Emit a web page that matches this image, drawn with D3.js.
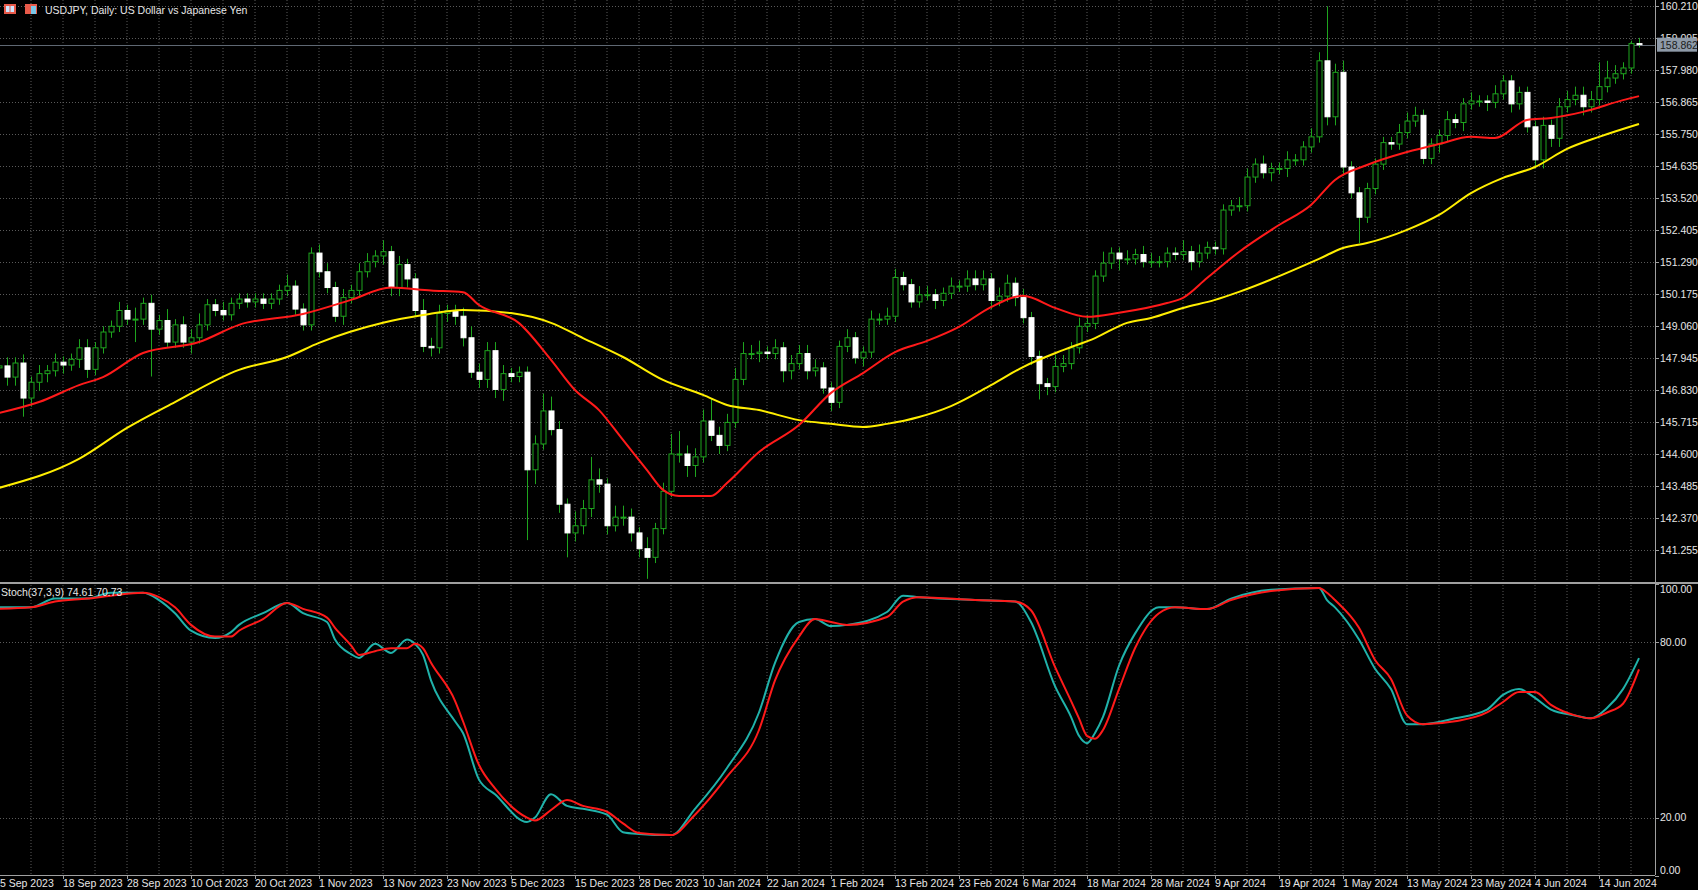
<!DOCTYPE html>
<html><head><meta charset="utf-8">
<script src="https://cdn.jsdelivr.net/npm/d3@7/dist/d3.min.js"></script>
<style>html,body{margin:0;padding:0;background:#000;overflow:hidden}</style>
</head><body>
<svg id="c" width="1698" height="890"></svg>
<script>
const closes=[147.67,147.28,147.77,146.55,147.1,147.4,147.5,147.8,147.7,147.9,
148.3,147.55,148.3,148.85,149.05,149.6,149.3,149.3,149.85,148.95,
149.25,148.5,149.1,148.5,148.65,149.1,149.8,149.6,149.45,149.85,
150.0,149.9,150.0,149.85,150.0,150.3,150.45,149.65,149.1,151.6,
150.95,150.4,149.4,150.05,150.3,150.95,151.3,151.5,151.65,150.4,
151.2,150.7,149.6,148.35,148.3,149.5,149.6,149.4,148.65,147.45,
147.2,148.2,146.85,147.4,147.3,147.45,144.05,144.95,146.1,145.45,
142.85,141.85,142.1,142.7,143.7,143.55,142.1,142.4,142.4,141.85,
141.3,141.0,142.0,143.3,144.6,144.6,144.2,144.5,145.75,145.25,
144.9,145.7,147.2,148.1,148.1,148.15,148.1,148.3,147.5,147.75,
148.1,147.5,147.6,146.9,146.4,148.35,148.65,147.95,148.15,149.3,
149.3,149.4,150.75,150.5,149.9,150.15,150.15,149.95,150.2,150.45,
150.45,150.7,150.5,150.7,149.95,150.1,150.55,150.05,149.35,148.0,
147.05,146.95,147.65,147.75,148.3,149.05,149.15,150.8,151.25,151.6,
151.4,151.4,151.55,151.3,151.3,151.3,151.6,151.55,151.65,151.3,
151.6,151.8,151.75,153.1,153.25,153.25,154.25,154.7,154.4,154.55,
154.55,154.85,154.85,155.3,155.65,158.3,156.35,157.9,154.6,153.7,
152.85,153.85,154.7,155.45,155.4,155.8,156.2,156.4,154.9,155.4,
155.7,156.25,156.15,156.8,156.9,156.9,156.85,157.15,157.6,156.8,
157.2,156.0,154.85,156.05,155.6,156.7,156.95,157.1,156.7,156.95,
157.4,157.7,157.85,158.05,158.9,158.862];
const firstOpen=147.6;
const upperWick=[.2,.3,.2,.3,.2,.3,.2,.3,.2,.2,.3,.3,.2,.2,.2,.3,.2,.4,.2,.3,
.2,.4,.2,.3,.3,.4,.2,.2,.3,.2,.2,.2,.2,.2,.2,.2,.4,.2,.2,.2,
.3,.3,.2,.3,.2,.3,.3,.2,.4,.2,.3,.2,.2,.4,.3,.3,.2,.2,.3,.4,
.3,.3,.3,.3,.2,.2,.2,.3,.6,.5,.3,.2,.5,.3,.8,.4,.2,.4,.4,.3,
.2,.4,.2,.3,.7,.8,.3,.3,.4,.8,.3,.3,.4,.4,.3,.4,.2,.3,.2,.3,
.3,.3,.3,.2,.2,.2,.3,.2,.2,.3,.2,.3,.3,.2,.2,.3,.3,.2,.2,.3,
.2,.3,.3,.3,.2,.3,.3,.2,.3,.2,.2,.2,.4,.3,.2,.3,.3,.2,.4,.2,
.2,.3,.2,.3,.3,.2,.2,.2,.4,.2,.3,.2,.2,.2,.2,.3,.3,.2,.3,.2,
.2,.3,.2,.2,.3,.3,1.9,.3,.4,.2,.2,.2,.2,.2,.2,.3,.3,.3,.2,.2,
.2,.3,.2,.2,.3,.2,.2,.3,.2,.2,.2,.2,.2,.3,.2,.3,.3,.3,.3,.3,
.85,.6,.3,.2,.1,.2];
const lowerWick=[.2,.3,.3,.65,.3,.3,.3,.2,.3,.2,.3,.3,.2,.2,.2,.2,.2,.8,.2,1.65,
.2,.2,.2,.2,.4,.2,.2,.2,.2,.2,.2,.2,.2,.2,.2,.2,.2,.2,.2,.2,
.2,.2,.2,.3,.2,.2,.2,.2,.3,.3,.3,.3,.2,.2,.3,.2,.3,.3,.3,.2,
.3,.3,.3,.4,.2,.2,2.45,.5,.2,.2,.3,.85,.3,.3,.3,.3,.3,.2,.3,.3,
.3,.75,.2,.2,.2,.3,.4,.4,.2,.2,.3,.2,.2,.2,.2,.3,.2,.2,.4,.3,
.2,.3,.2,.2,.3,.2,.2,.2,.3,.2,.2,.2,.2,.2,.2,.2,.2,.3,.2,.2,
.2,.2,.2,.2,.3,.2,.2,.3,.2,.3,.55,.3,.2,.2,.2,.2,.2,.2,.2,.2,
.4,.2,.2,.2,.2,.2,.2,.2,.2,.3,.2,.2,.2,.2,.2,.2,.2,.2,.2,.3,
.2,.3,.2,.2,.2,.2,.3,.3,.3,.2,.9,.2,.2,.2,.2,.2,.2,.2,.2,.2,
.3,.2,.2,.3,.2,.2,.3,.2,.2,.3,.2,.2,.3,.3,.3,.3,.2,.2,.3,.2,
.2,.2,.2,.2,.2,.1];
const redMABars=[0,5,10,13,18,25,30,38,44,49,54,58,60,65,69,72,75,78,81,83,85,89,91,95,100,104,108,112,116,120,124,128,132,136,140,146,148,151,155,160,164,167,171,176,180,184,187,191,194,198,203,205];
const redMA=[146.03,146.41,147.0,147.28,148.12,148.5,149.1,149.48,149.97,150.4,150.3,150.24,149.79,149.16,147.88,146.83,146.13,145.09,144.04,143.35,143.14,143.14,143.59,144.67,145.61,146.73,147.42,148.15,148.54,149.03,149.72,150.11,149.69,149.38,149.52,149.86,150.04,150.73,151.64,152.58,153.28,154.15,154.67,155.12,155.4,155.65,155.61,156.24,156.31,156.52,156.93,157.07];
const yelMABars=[0,10,16,22,30,36,40,48,53,58,64,69,73,78,83,88,91,95,100,104,108,111,115,119,124,128,133,137,141,144,148,152,155,165,168,171,176,180,184,188,192,196,200,205];
const yelMA=[143.42,144.43,145.51,146.41,147.53,147.98,148.47,149.17,149.44,149.62,149.51,149.17,148.64,147.98,147.18,146.66,146.31,146.13,145.78,145.65,145.54,145.65,145.89,146.27,147.0,147.63,148.22,148.64,149.17,149.34,149.69,149.97,150.25,151.4,151.78,151.95,152.41,152.93,153.69,154.22,154.6,155.23,155.65,156.1];
const stBars=[0,4,7,11,14,18,20,22,24,27,29,30,33,36,38,41,42,44,45,47,49,51,52,53,54,57,58,60,62,66,67,69,71,73,76,78,80,84,87,91,95,97,100,102,104,106,111,113,115,122,127,129,132,134,135,136,137,138,140,142,145,147,151,154,159,165,166,167,170,172,174,176,178,182,186,188,190,192,194,197,199,201,203,205];
const stMain=[92,92,95,95,97,97,94.5,90,84,81.5,83.5,86,90,93.5,90,87,81,76,74.7,79.5,76.4,81,79.5,75.7,67,53,49,33,28,18.5,20,28,24,23,21,15,14.4,14,23,37,56,73,87,88,85.6,86,90.4,96,95.5,94.5,94,87,65,54.5,48,45.5,49,54.5,72,83,92,92,91.4,95,98,98.6,94.5,92,81,71,64,52,52,54,57,62,64,61,57,55,54,57.5,64,74.61];
const stSignal=[91.5,92,94,95,96,97,95.5,92,86,82,82,84,88,93.5,91.5,88.5,85,79,75.7,77,78,78,79.5,78,73,60,53,38,30,20,19,22.6,26,24,22,18,14.7,14,21,34,50,67,82,88,87,86,88.7,94,95.5,94.5,94,91,71.6,60,54,48,47,50,64,78,90,92,91.4,94.5,97.6,98.6,97,94.5,85,74,67.5,55,52,53,56,59.6,63,63,58.6,55,54,56,59,70.73];
const priceTicks=["160.210","159.095","157.980","156.865","155.750","154.635","153.520","152.405","151.290","150.175","149.060","147.945","146.830","145.715","144.600","143.485","142.370","141.255"];
const stochTicks=["100.00","80.00","20.00","0.00"];
const dateLabels=["5 Sep 2023","18 Sep 2023","28 Sep 2023","10 Oct 2023","20 Oct 2023","1 Nov 2023","13 Nov 2023","23 Nov 2023","5 Dec 2023","15 Dec 2023","28 Dec 2023","10 Jan 2024","22 Jan 2024","1 Feb 2024","13 Feb 2024","23 Feb 2024","6 Mar 2024","18 Mar 2024","28 Mar 2024","9 Apr 2024","19 Apr 2024","1 May 2024","13 May 2024","23 May 2024","4 Jun 2024","14 Jun 2024"];
const lastPrice=158.862;

const svg=d3.select("#c");
const FONT="'Liberation Sans', Arial, sans-serif";
const RIGHT=1655, SEP=583, BOT=875;
const x=d3.scaleLinear().domain([0,205]).range([-1,1639]);
const y=d3.scaleLinear().domain([141.255,160.21]).range([550,6]);
const ys=d3.scaleLinear().domain([0,100]).range([876,584]);
svg.append("rect").attr("width",1698).attr("height",890).attr("fill","#000");
const defs=svg.append("defs");
defs.append("clipPath").attr("id","cp").append("rect").attr("x",0).attr("y",0).attr("width",RIGHT).attr("height",SEP-1);
defs.append("clipPath").attr("id","cs").append("rect").attr("x",0).attr("y",SEP+1).attr("width",RIGHT).attr("height",BOT-SEP-1);
const gridC="#5a5a5a";
// vertical grid
const g=svg.append("g");
for(let b=4;b<=205;b+=4){
  g.append("line").attr("x1",x(b)).attr("x2",x(b)).attr("y1",0).attr("y2",BOT)
   .attr("stroke",gridC).attr("stroke-dasharray","1,2");
}
priceTicks.forEach(t=>{
  const yy=Math.round(y(+t))+0.5;
  g.append("line").attr("x1",0).attr("x2",RIGHT).attr("y1",yy).attr("y2",yy).attr("stroke",gridC).attr("stroke-dasharray","1,2");
});
[80,20].forEach(v=>{
  const yy=Math.round(ys(v))+0.5;
  g.append("line").attr("x1",0).attr("x2",RIGHT).attr("y1",yy).attr("y2",yy).attr("stroke",gridC).attr("stroke-dasharray","1,2");
});
// current price line
svg.append("line").attr("x1",0).attr("x2",RIGHT).attr("y1",Math.round(y(lastPrice))+0.5).attr("y2",Math.round(y(lastPrice))+0.5).attr("stroke","#5f6873");
// candles
const pc=svg.append("g").attr("clip-path","url(#cp)");
const green="#1ea51e";
closes.forEach((c,i)=>{
  const o=i===0?firstOpen:closes[i-1];
  const hi=Math.max(o,c)+upperWick[i], lo=Math.min(o,c)-lowerWick[i];
  const cx=Math.round(x(i))+0.5;
  pc.append("line").attr("x1",cx).attr("x2",cx).attr("y1",y(hi)).attr("y2",y(lo)).attr("stroke",green);
  const top=y(Math.max(o,c)), bot=y(Math.min(o,c));
  const h=Math.max(1,bot-top);
  if(c>=o){
    pc.append("rect").attr("x",cx-2.5).attr("y",top).attr("width",5).attr("height",h).attr("fill","#000").attr("stroke",green);
  } else {
    pc.append("rect").attr("x",cx-2.5).attr("y",top).attr("width",5).attr("height",h).attr("fill","#fff").attr("stroke","#fff");
  }
});
const lineP=d3.line().x(d=>x(d[0])).y(d=>y(d[1])).curve(d3.curveMonotoneX);
pc.append("path").attr("d",lineP(yelMABars.map((b,i)=>[b,yelMA[i]]))).attr("fill","none").attr("stroke","#ffee00").attr("stroke-width",2);
pc.append("path").attr("d",lineP(redMABars.map((b,i)=>[b,redMA[i]]))).attr("fill","none").attr("stroke","#ff1a1a").attr("stroke-width",2);
// stoch
const sc=svg.append("g").attr("clip-path","url(#cs)");
const lineS=d3.line().x(d=>x(d[0])).y(d=>ys(d[1])).curve(d3.curveMonotoneX);
sc.append("path").attr("d",lineS(stBars.map((b,i)=>[b,stMain[i]]))).attr("fill","none").attr("stroke","#20b2aa").attr("stroke-width",2);
sc.append("path").attr("d",lineS(stBars.map((b,i)=>[b,stSignal[i]]))).attr("fill","none").attr("stroke","#ff1a1a").attr("stroke-width",2);
// separators / axes
svg.append("line").attr("x1",0).attr("x2",1698).attr("y1",SEP).attr("y2",SEP).attr("stroke","#a0a0a0").attr("stroke-width",2);
svg.append("line").attr("x1",RIGHT+0.5).attr("x2",RIGHT+0.5).attr("y1",0).attr("y2",BOT).attr("stroke","#a0a0a0");
svg.append("line").attr("x1",0).attr("x2",RIGHT).attr("y1",BOT+0.5).attr("y2",BOT+0.5).attr("stroke","#a0a0a0");
const txt=(s,xx,yy,anchor)=>svg.append("text").attr("x",xx).attr("y",yy).attr("fill","#e6e6e6").attr("font-family",FONT).attr("font-size",10.5).attr("text-anchor",anchor||"start").text(s);
priceTicks.forEach(t=>{
  const yy=y(+t);
  svg.append("line").attr("x1",RIGHT).attr("x2",RIGHT+4).attr("y1",Math.round(yy)+0.5).attr("y2",Math.round(yy)+0.5).attr("stroke","#a0a0a0");
  txt(t,RIGHT+5,yy+4);
});
const sLab={"100.00":589,"80.00":642,"20.00":817,"0.00":870};
stochTicks.forEach(t=>{
  svg.append("line").attr("x1",RIGHT).attr("x2",RIGHT+4).attr("y1",Math.round(ys(+t))+0.5).attr("y2",Math.round(ys(+t))+0.5).attr("stroke","#a0a0a0");
  txt(t,RIGHT+5,sLab[t]+4);
});
// last price box
const ly=y(lastPrice);
svg.append("rect").attr("x",RIGHT+2).attr("y",ly-7).attr("width",40).attr("height",14).attr("fill","#8e9aa8");
svg.append("text").attr("x",RIGHT+5).attr("y",ly+4).attr("fill","#1a1a1a").attr("font-family",FONT).attr("font-size",10.5).text(lastPrice.toFixed(3));
dateLabels.forEach((d,k)=>{
  const xx=Math.max(0,x(8*k));
  svg.append("line").attr("x1",Math.round(x(8*k))+0.5).attr("x2",Math.round(x(8*k))+0.5).attr("y1",BOT).attr("y2",BOT+4).attr("stroke","#a0a0a0");
  txt(d,xx,887);
});
// title & icons
svg.append("rect").attr("x",4).attr("y",4).attr("width",12).attr("height",10).attr("fill","#e85a4a");
svg.append("rect").attr("x",6).attr("y",6).attr("width",8).attr("height",6).attr("fill","#cfe6ff");
svg.append("line").attr("x1",10).attr("x2",10).attr("y1",4).attr("y2",14).attr("stroke","#e85a4a");
svg.append("rect").attr("x",25).attr("y",4).attr("width",12).attr("height",10).attr("fill","#e85a4a");
svg.append("rect").attr("x",31).attr("y",6).attr("width",5).attr("height",8).attr("fill","#7ac6e8");
txt("USDJPY, Daily:  US Dollar vs Japanese Yen",45,14);
txt("Stoch(37,3,9) 74.61 70.73",1,596);
</script>
</body></html>
